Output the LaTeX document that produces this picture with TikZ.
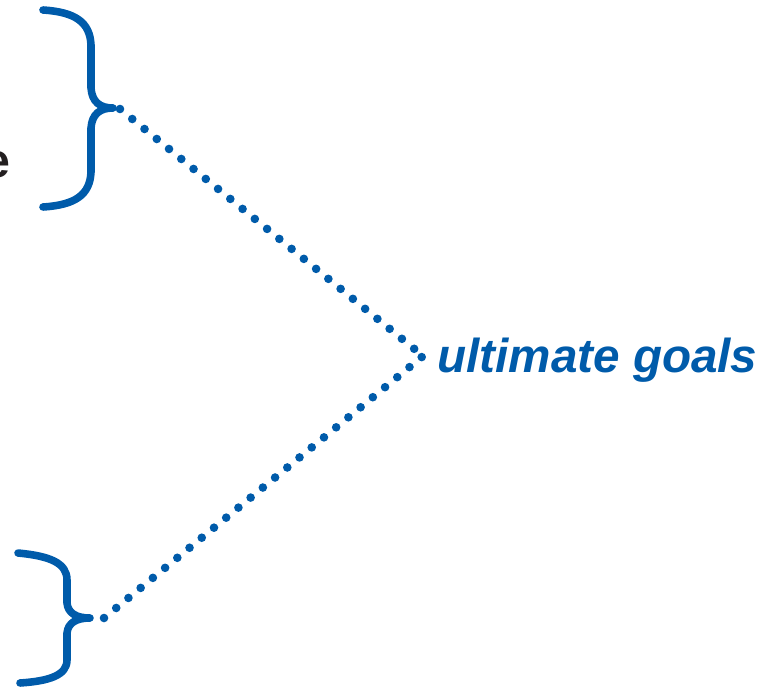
\documentclass[tikz,border=0pt]{standalone}
\usepackage{fontspec}
\setmainfont{Liberation Sans}
\definecolor{goalblue}{RGB}{0,91,170}
\definecolor{textblack}{RGB}{35,31,32}
\begin{document}
\begin{tikzpicture}[x=0.02cm, y=-0.02cm,
    brace/.style={line width=4.3pt, color=goalblue, line cap=round, line join=round},
    dotline/.style={line width=4.9pt, color=goalblue, line cap=round, dash pattern=on 0pt off 9pt},
    goal/.style={color=goalblue, font=\fontsize{27.1}{32}\selectfont\bfseries\itshape, inner sep=0pt}]
    \useasboundingbox (0,0) rectangle (776,686);
    % cut-off word on the left
    \node[anchor=base east, inner sep=0pt, color=textblack, font=\fontsize{27.5}{32}\selectfont\bfseries] (word) at (11,177) {e};
    % upper brace
    \draw[brace] (43,10) .. controls (75,12) and (90,22) .. (91,45) -- (91,88)
        .. controls (92,102) and (100,108) .. (113,108)
        .. controls (100,108) and (92,114) .. (91,128) -- (91,172)
        .. controls (90,195) and (75,205) .. (43,207);
    \coordinate (tipA) at (120,109);
    % lower brace
    \draw[brace] (18,553) .. controls (50,556) and (67,563) .. (67,580) -- (67,603)
        .. controls (68,613) and (76,618) .. (90,618)
        .. controls (76,618) and (68,623) .. (67,633) -- (67,660)
        .. controls (67,675) and (50,681) .. (20,683);
    \coordinate (tipB) at (104,618);
    % label and the two dotted links
    \node[goal, anchor=base west] (goals) at (437,372) {ultimate goals};
    \coordinate (vtx) at (423,356);
    \draw[dotline] (tipA) -- (vtx);
    \draw[dotline] (tipB) -- (vtx);
\end{tikzpicture}
\end{document}
